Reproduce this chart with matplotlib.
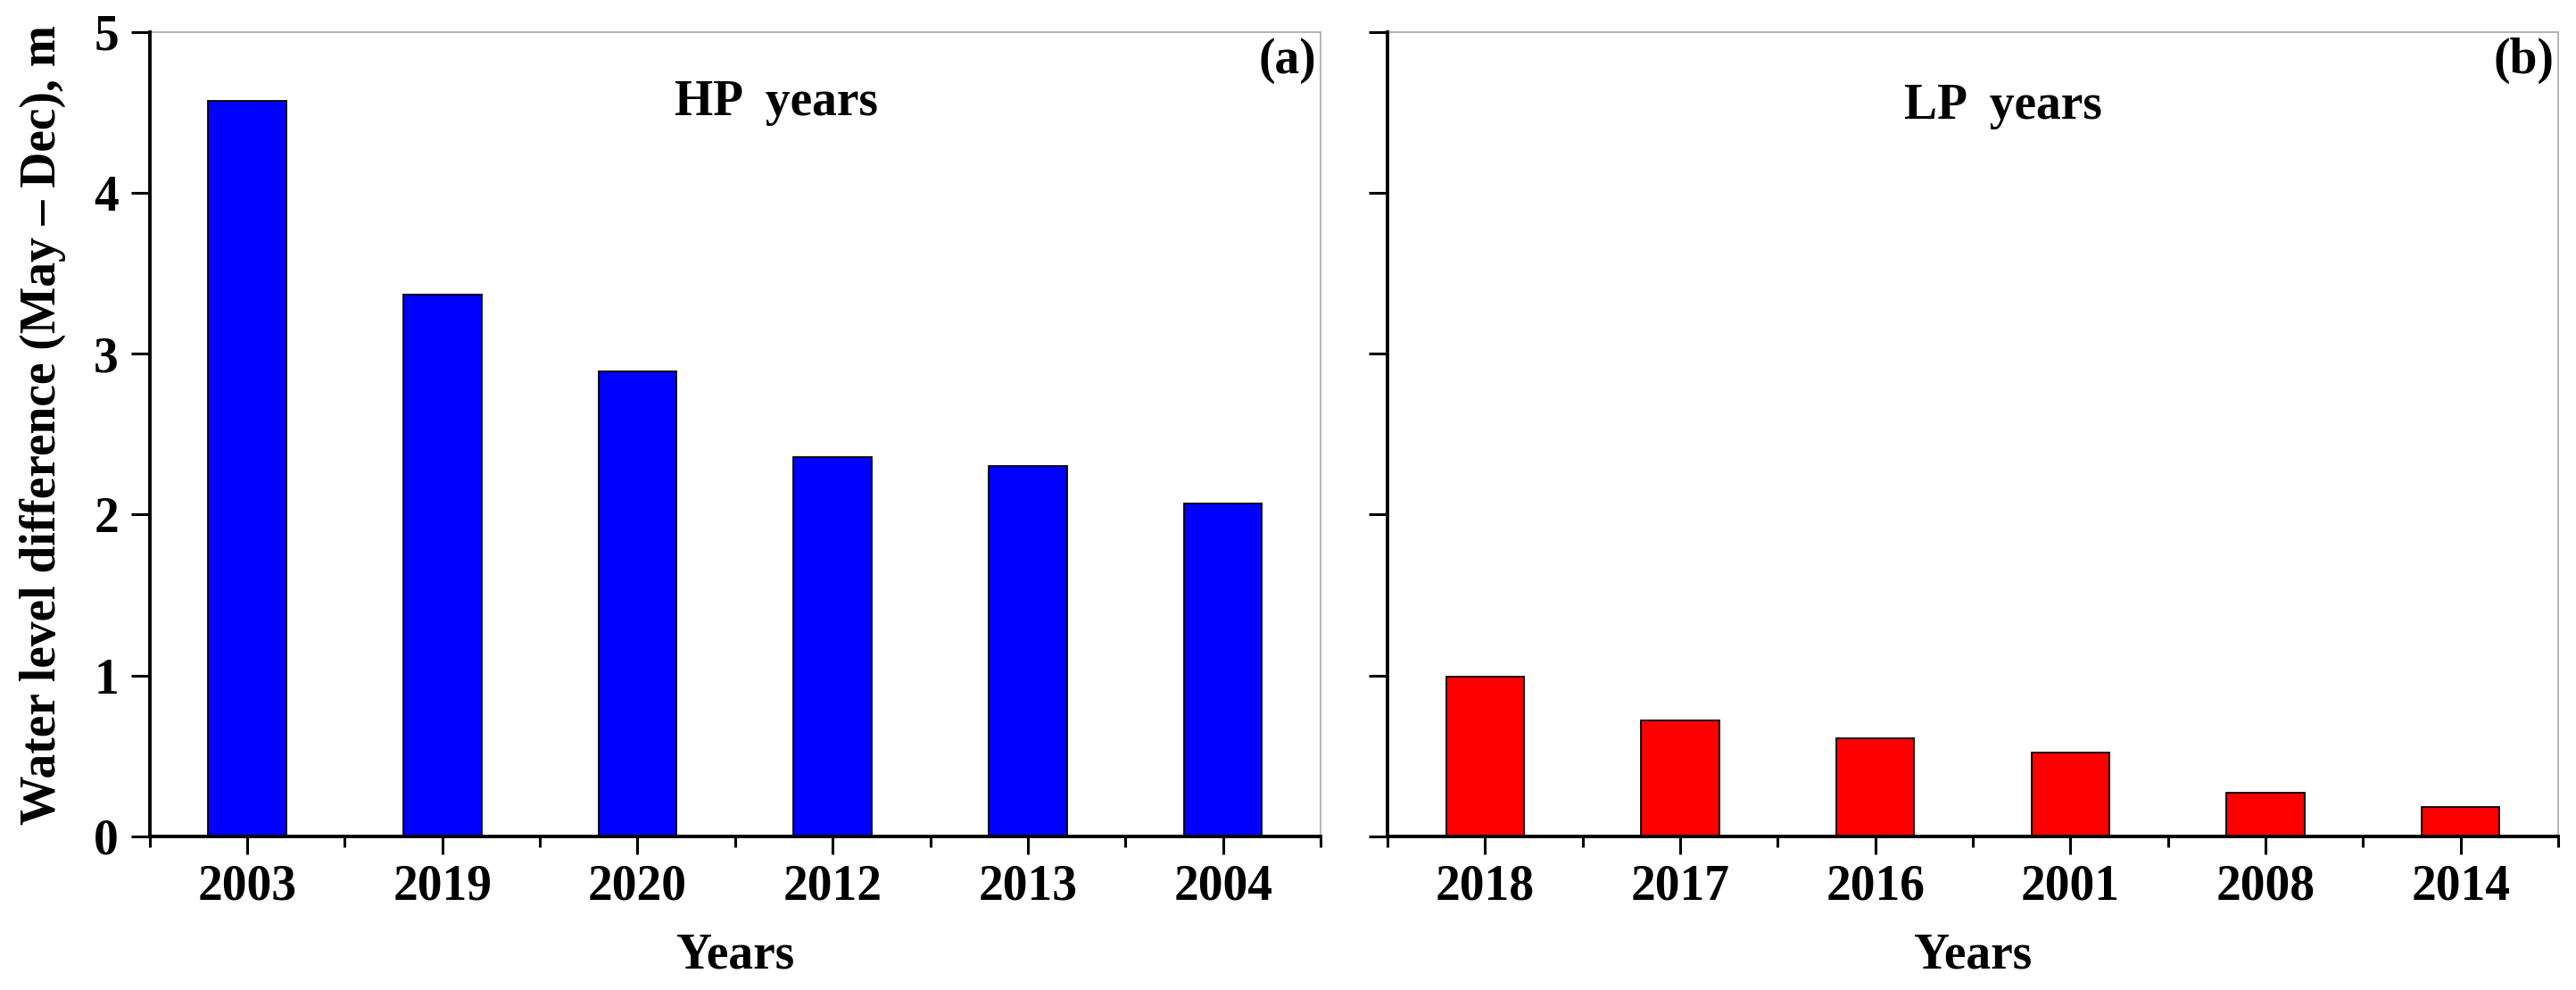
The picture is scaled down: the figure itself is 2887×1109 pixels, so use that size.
import matplotlib
matplotlib.use("Agg")
import matplotlib.pyplot as plt
import numpy as np

hp_years = ["2003", "2019", "2020", "2012", "2013", "2004"]
hp_values = [4.57, 3.37, 2.89, 2.36, 2.30, 2.07]
lp_years = ["2018", "2017", "2016", "2001", "2008", "2014"]
lp_values = [0.99, 0.72, 0.61, 0.52, 0.27, 0.18]
y_ticks = [0, 1, 2, 3, 4, 5]

plt.rcParams['font.family'] = ['Liberation Serif', 'DejaVu Serif']
plt.rcParams['font.weight'] = 'bold'

W, H = 2887, 1109
fig = plt.figure(figsize=(W / 100, H / 100), dpi=100)

def px_rect(x0, x1, ytop, ybot):
    return [x0 / W, (H - ybot) / H, (x1 - x0) / W, (ybot - ytop) / H]

ax1 = fig.add_axes(px_rect(167.7, 1480, 36, 936.7))
ax2 = fig.add_axes(px_rect(1555, 2867, 36, 936.7))

FS = 40

def style(ax, cats, vals, color, title, tag, title_x, title_y, show_ylabels):
    x = np.arange(len(cats))
    ax.bar(x, vals, width=0.4, color=color, edgecolor='black', linewidth=1.3, zorder=2)
    ax.set_xlim(-0.5, len(cats) - 0.5)
    ax.set_ylim(0, 5)
    ax.set_xticks(x)
    ax.set_xticklabels(cats, fontsize=FS, fontweight='bold')
    ax.set_xticks(np.arange(-0.5, len(cats), 1.0), minor=True)
    ax.set_yticks(y_ticks)
    if show_ylabels:
        ax.set_yticklabels([str(t) for t in y_ticks], fontsize=FS, fontweight='bold')
    else:
        ax.set_yticklabels([])
    ax.tick_params(axis='x', which='major', direction='out', length=14.5, width=2.2, pad=8)
    ax.tick_params(axis='x', which='minor', direction='out', length=8.6, width=2.2)
    ax.tick_params(axis='y', which='major', direction='out', length=15, width=2.2, pad=10)
    ax.tick_params(axis='y', which='minor', left=False)
    for s in ['left', 'bottom']:
        ax.spines[s].set_color('black')
        ax.spines[s].set_linewidth(2.8)
        ax.spines[s].set_zorder(3)
    for s in ['top', 'right']:
        ax.spines[s].set_color('#a8a8a8')
        ax.spines[s].set_linewidth(1.2)
    ax.set_xlabel("Years", fontsize=FS, fontweight='bold', labelpad=18)
    ax.text(title_x, title_y, title, transform=ax.transAxes, ha='center', va='baseline',
            fontsize=FS, fontweight='bold')
    ax.text(0.9964, 0.9486, tag, transform=ax.transAxes, ha='right', va='baseline',
            fontsize=FS, fontweight='bold')

style(ax1, hp_years, hp_values, '#0000ff', "HP  years", "(a)", 0.5353, 0.8963, True)
style(ax2, lp_years, lp_values, '#ff0000', "LP  years", "(b)", 0.526, 0.892, False)

ax1.set_ylabel("Water level difference (May \u2013 Dec), m", fontsize=FS, fontweight='bold')
ax1.yaxis.set_label_coords(-0.0714, 0.512)

fig.savefig("out.png", dpi=100)
